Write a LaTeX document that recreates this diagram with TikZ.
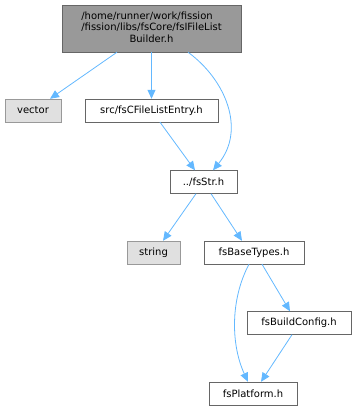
\documentclass[tikz,border=0pt]{standalone}
\usepackage{fontspec}
\setmainfont{DejaVu Sans}
\usepackage{xcolor}
\usetikzlibrary{arrows.meta}
\definecolor{edgeblue}{HTML}{63B8FF}
\definecolor{boxline}{HTML}{666666}
\definecolor{sysline}{HTML}{999999}
\definecolor{sysfill}{HTML}{E0E0E0}
\definecolor{rootfill}{HTML}{999999}

\begin{document}
\begin{tikzpicture}[x=1pt,y=-1pt,font=\fontsize{10}{11.8}\selectfont,
  rec/.style={draw=boxline,fill=white,inner sep=0pt,minimum height=23pt,minimum width=#1},
  rec/.default=60pt,
  sys/.style={rec=#1,draw=sysline,fill=sysfill},
  dep/.style={-{Triangle[length=9pt,width=8pt]},draw=edgeblue,line width=0.8pt}]
\useasboundingbox (0,0) rectangle (356,411);
% the file itself
\node[rec=179pt,minimum height=47pt,fill=rootfill] (root) at (151.5,28.5)
  {\begin{tabular}{@{}l@{}}/home/runner/work/fission\\/fission/libs/fsCore/fsIFileList\\
   \multicolumn{1}{@{}c@{}}{Builder.h}\end{tabular}};
% first level
\node[sys=56pt] (vector) at (33,110.5) {vector};
\node[rec=133pt] (entry) at (151.5,110.5) {src/fsCFileListEntry.h};
\node[rec=67pt] (str) at (203.5,182) {../fsStr.h};
% below fsStr
\node[sys=53pt] (string) at (153.5,252.5) {string};
\node[rec=100pt] (base) at (254,252.5) {fsBaseTypes.h};
\node[rec=104pt] (build) at (299,323) {fsBuildConfig.h};
\node[rec=88pt] (platform) at (253,393.5) {fsPlatform.h};
% includes
\draw[dep] ([xshift=-34.5pt]root.south) -- ([xshift=17pt]vector.north);
\draw[dep] (root.south) -- (entry.north);
\draw[dep] ([xshift=36.5pt]root.south) .. controls (226,80) and (246,130) .. ([xshift=9.5pt]str.north);
\draw[dep] ([xshift=8.5pt]entry.south) -- ([xshift=-8.5pt]str.north);
\draw[dep] ([xshift=-7.5pt]str.south) -- ([xshift=9.5pt]string.north);
\draw[dep] ([xshift=7.5pt]str.south) -- ([xshift=-12pt]base.north);
\draw[dep] ([xshift=-5pt]base.south) .. controls (230,300) and (231,345) .. ([xshift=-5pt]platform.north);
\draw[dep] ([xshift=8pt]base.south) -- ([xshift=-9pt]build.north);
\draw[dep] ([xshift=-7pt]build.south) -- ([xshift=8pt]platform.north);
\end{tikzpicture}
\end{document}
